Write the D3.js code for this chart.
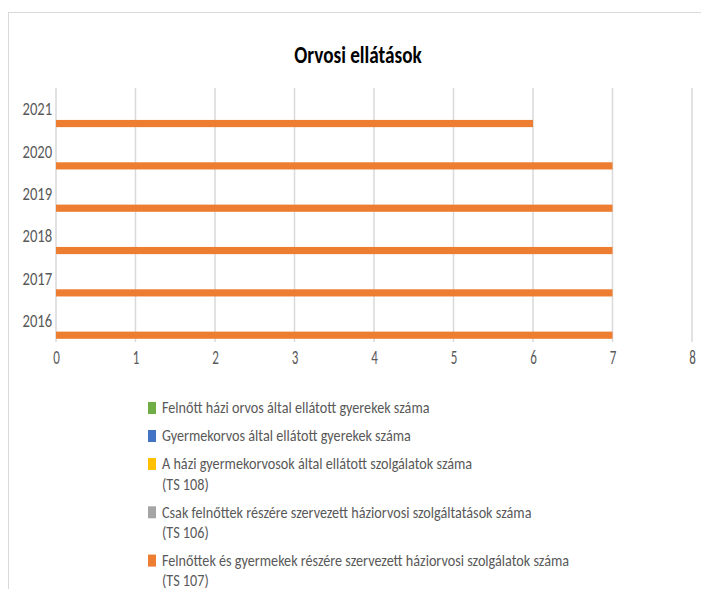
<!DOCTYPE html>
<html>
<head>
<meta charset="utf-8">
<script src="https://cdn.jsdelivr.net/npm/d3@7"></script>
<style>
    body { margin: 0; background: #fff; }
    svg text { font-family: Carlito, Lato, "Noto Sans", sans-serif; }
</style>
</head>
<body>
<svg id="chart" width="701" height="589"></svg>
<script>
// data
const years = ["2016", "2017", "2018", "2019", "2020", "2021"];
const seriesNames = [
    "Felnőtt házi orvos által ellátott gyerekek száma",
    "Gyermekorvos által ellátott gyerekek száma",
    "A házi gyermekorvosok által ellátott szolgálatok száma (TS 108)",
    "Csak felnőttek részére szervezett háziorvosi szolgáltatások száma (TS 106)",
    "Felnőttek és gyermekek részére szervezett háziorvosi szolgálatok száma (TS 107)"
];
const seriesColors = ["#70AD47", "#4472C4", "#FFC000", "#A5A5A5", "#ED7D31"];
const felnottHaziOrvos = [0, 0, 0, 0, 0, 0];
const gyermekorvos = [0, 0, 0, 0, 0, 0];
const ts108 = [0, 0, 0, 0, 0, 0];
const ts106 = [0, 0, 0, 0, 0, 0];
const ts107 = [7, 7, 7, 7, 7, 6];
const seriesValues = [felnottHaziOrvos, gyermekorvos, ts108, ts106, ts107];
const xTicks = [0, 1, 2, 3, 4, 5, 6, 7, 8];

const svg = d3.select("#chart");

// the screenshot's text is squeezed sideways, so texts get a horizontal scale
function squeeze(sel, sx) {
    sel.attr("transform", function () {
        const old = this.getAttribute("data-t") || "";
        return `${old} scale(${sx},1)`;
    });
}

// outer chart frame (cut off on the right and bottom like the screenshot)
svg.append("rect")
    .attr("x", 8.5).attr("y", 12.5)
    .attr("width", 720).attr("height", 620)
    .attr("fill", "#fff")
    .attr("stroke", "#d9d9d9")
    .attr("stroke-width", 1);

const title = svg.append("text")
    .attr("data-t", "translate(358,55)")
    .attr("dy", ".35em")
    .attr("text-anchor", "middle")
    .attr("font-size", 24)
    .attr("font-weight", "bold")
    .attr("fill", "#000")
    .text("Orvosi ellátások");
squeeze(title, 0.8);

const plot = { left: 56, right: 692, top: 88, bottom: 342 };

const x = d3.scaleLinear().domain([0, 8]).range([plot.left, plot.right]);
// 2016 at the bottom, like Excel
const y = d3.scaleBand().domain(years.slice().reverse()).range([plot.top, plot.bottom]);

const gap = 6.4;
const barH = (y.bandwidth() - gap) / seriesValues.length;

// gridlines
svg.append("g")
    .selectAll("line")
    .data(xTicks)
    .join("line")
    .attr("x1", d => x(d)).attr("x2", d => x(d))
    .attr("y1", plot.top).attr("y2", plot.bottom)
    .attr("stroke", "#d9d9d9")
    .attr("stroke-width", 1.5);

// bars
seriesValues.forEach((vals, i) => {
    svg.append("g")
        .selectAll("rect")
        .data(years.map((yr, j) => ({ year: yr, value: vals[j] })))
        .join("rect")
        .attr("x", x(0))
        .attr("y", d => y(d.year) + gap / 2 + i * barH)
        .attr("width", d => x(d.value) - x(0))
        .attr("height", barH)
        .attr("fill", seriesColors[i])
        .attr("stroke", d => d.value === 0 ? seriesColors[i] : "none")
        .attr("stroke-width", 0.8);
});

// x axis labels
const xAxis = svg.append("g")
    .attr("transform", `translate(0,${plot.bottom})`)
    .call(d3.axisBottom(x).tickValues(xTicks).tickSize(0).tickPadding(8).tickFormat(d3.format("d")));
xAxis.select(".domain").remove();
xAxis.selectAll("text")
    .attr("font-size", 20)
    .attr("fill", "#595959");
squeeze(xAxis.selectAll("text"), 0.65);

// y axis labels
const yAxis = svg.append("g")
    .attr("transform", `translate(${plot.left},0)`)
    .call(d3.axisLeft(y).tickSize(0).tickPadding(5));
yAxis.select(".domain").remove();
yAxis.selectAll("text")
    .attr("font-size", 19)
    .attr("fill", "#595959");
squeeze(yAxis.selectAll("text"), 0.77);
svg.selectAll("g").attr("font-family", null);

// legend
const legendX = 148;
const lineH = 20.3;
const entryGap = 28;
let ly = 408;
seriesNames.forEach((name, i) => {
    const k = name.indexOf(" (TS");
    const lines = k >= 0 ? [name.slice(0, k), name.slice(k + 1)] : [name];
    svg.append("rect")
        .attr("x", legendX).attr("y", ly - 6)
        .attr("width", 8).attr("height", 12)
        .attr("fill", seriesColors[i]);
    const t = svg.append("text")
        .attr("data-t", `translate(${legendX + 14},0)`)
        .attr("font-size", 15.5)
        .attr("fill", "#595959");
    lines.forEach((ln, li) => {
        t.append("tspan")
            .attr("x", 0)
            .attr("y", ly + li * lineH)
            .attr("dy", ".35em")
            .text(ln);
    });
    squeeze(t, 0.915);
    ly += (lines.length - 1) * lineH + entryGap;
});
</script>
</body>
</html>
